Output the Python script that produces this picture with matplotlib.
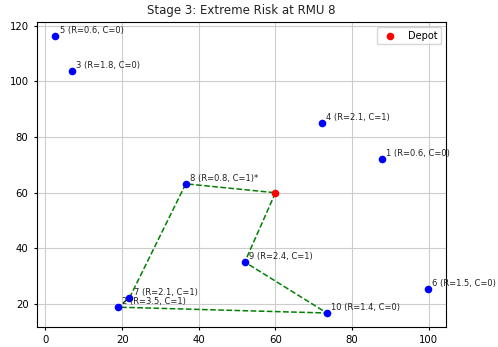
import matplotlib
matplotlib.use("Agg")
import matplotlib.pyplot as plt

# 节点数据
node_ids = [1, 2, 3, 4, 5, 6, 7, 8, 9, 10]
node_x = [87.7, 18.8, 7.0, 72.1, 2.6, 99.7, 21.9, 36.6, 52.0, 73.4]
node_y = [72.2, 18.9, 103.8, 85.1, 116.4, 25.4, 22.2, 63.2, 35.1, 16.8]
node_r = [0.6, 3.5, 1.8, 2.1, 0.6, 1.5, 2.1, 0.8, 2.4, 1.4]
node_c = [0, 1, 0, 1, 0, 0, 1, 1, 1, 0]
extreme_node = 8

depot_x, depot_y = 60.0, 60.0
route = [9, 10, 2, 7, 8]

fig = plt.figure(figsize=(4.98, 3.47), dpi=100)
ax = fig.add_axes([0.074, 0.058, 0.822, 0.879])

# 路线
rx = [depot_x] + [node_x[node_ids.index(n)] for n in route] + [depot_x]
ry = [depot_y] + [node_y[node_ids.index(n)] for n in route] + [depot_y]
ax.plot(rx, ry, linestyle='--', color='green', linewidth=1.1, zorder=2)

ax.scatter(node_x, node_y, c='blue', s=20, zorder=3)
ax.scatter([depot_x], [depot_y], c='red', s=20, zorder=3, label='Depot')

for i, n in enumerate(node_ids):
    txt = f"{n} (R={node_r[i]}, C={node_c[i]})"
    if n == extreme_node:
        txt += "*"
    ax.annotate(txt, (node_x[i], node_y[i]), xytext=(3, 2),
                textcoords='offset points', fontsize=6, color='#222222')

ax.set_title("Stage 3: Extreme Risk at RMU 8", fontsize=8.5, color='#222222')
ax.grid(True, color='#cccccc', linewidth=0.8)
ax.set_axisbelow(True)
ax.tick_params(labelsize=7.3, length=2.5)
ax.legend(loc='upper right', fontsize=7)

fig.savefig("out.png", dpi=100)
